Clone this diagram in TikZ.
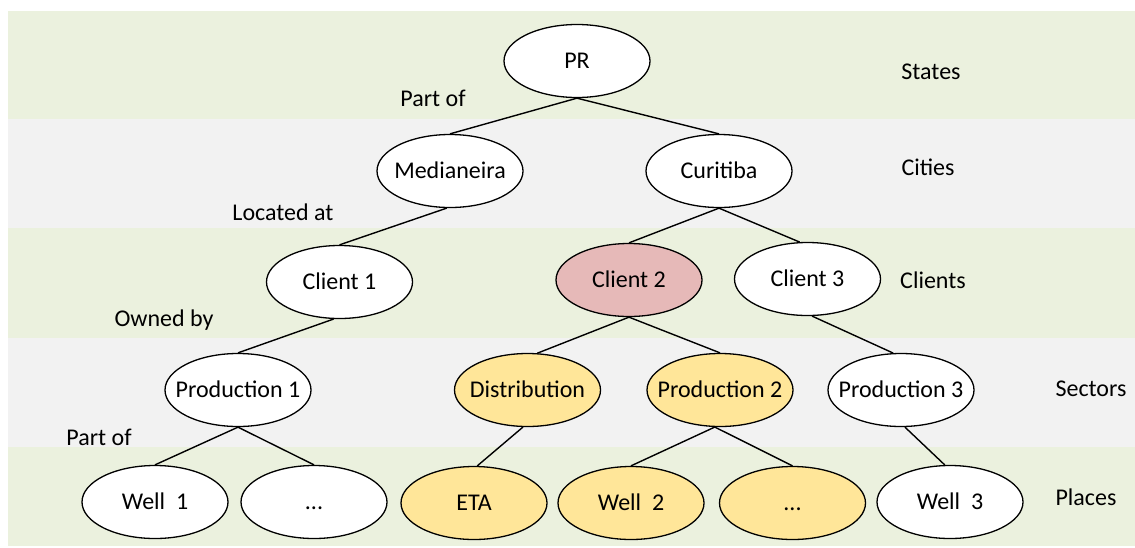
\documentclass[tikz,border=0pt]{standalone}
\usepackage{fontspec}
\setmainfont{Carlito}
\usetikzlibrary{shapes.geometric}
\definecolor{bandgreen}{HTML}{EBF1DE}
\definecolor{bandgray}{HTML}{F2F2F2}
\definecolor{pinkfill}{HTML}{E6B9B8}
\definecolor{goldfill}{HTML}{FFE699}
\begin{document}
\begin{tikzpicture}[x=1pt,y=-1pt,
  every node/.style={font=\fontsize{24}{28}\selectfont},
  ent/.style={ellipse,draw=black,line width=1.3pt,fill=white,minimum width=146pt,minimum height=73pt,inner xsep=-30pt,inner ysep=0pt,text height=15.5pt,text depth=0pt},
  pinkent/.style={ent,fill=pinkfill},
  goldent/.style={ent,fill=goldfill},
  lbl/.style={inner sep=0pt},
  edge/.style={draw=black,line width=1.4pt}]
\useasboundingbox (0,0) rectangle (1135,547);
% bands
\fill[bandgreen] (8,11) rectangle (1135,119);
\fill[bandgray] (8,119) rectangle (1135,228);
\fill[bandgreen] (8,228) rectangle (1135,338);
\fill[bandgray] (8,338) rectangle (1135,447);
\fill[bandgreen] (8,447) rectangle (1135,546);
% nodes
\node[ent] (pr) at (577,61) {PR};
\node[ent] (med) at (450,171) {Medianeira};
\node[ent] (cur) at (719,171) {Curitiba};
\node[ent] (c1) at (339.5,282) {Client 1};
\node[pinkent] (c2) at (629,280) {Client 2};
\node[ent] (c3) at (807.5,279) {Client 3};
\node[ent] (p1) at (238,390) {Production 1};
\node[goldent] (dist) at (527.5,390) {Distribution};
\node[goldent] (p2) at (720,390) {Production 2};
\node[ent] (p3) at (901,390) {Production 3};
\node[ent] (w1) at (155,502) {Well\ \ 1};
\node[ent] (d1) at (314,502) {...};
\node[goldent] (eta) at (474,503) {ETA};
\node[goldent] (w2) at (631,503) {Well\ \ 2};
\node[goldent] (d2) at (792.5,503) {...};
\node[ent] (w3) at (950,502) {Well\ \ 3};
% edges
\draw[edge] (pr.south) -- (med.north);
\draw[edge] (pr.south) -- (cur.north);
\draw[edge] (med.-95) -- (c1.north);
\draw[edge] (cur.south) -- (c2.north);
\draw[edge] (cur.south) -- (c3.102);
\draw[edge] (c1.-99) -- (p1.north);
\draw[edge] (c2.south) -- (dist.75);
\draw[edge] (c2.south) -- (p2.north);
\draw[edge] (c3.-83) -- (p3.102);
\draw[edge] (p1.south) -- (w1.north);
\draw[edge] (p1.south) -- (d1.north);
\draw[edge] (dist.-97) -- (eta.85);
\draw[edge] (p2.-98) -- (w2.north);
\draw[edge] (p2.-98) -- (d2.north);
\draw[edge] (p3.-84) -- (w3.98);
% relation labels
\node[lbl] (l1) at (433,98) {Part of};
\node[lbl] (l2) at (283,212) {Located at};
\node[lbl] (l3) at (164,320) {Owned by};
\node[lbl] (l4) at (99,437) {Part of};
% level labels
\node[lbl] (s1) at (931,72) {States};
\node[lbl] (s2) at (928,167) {Cities};
\node[lbl] (s3) at (933,280) {Clients};
\node[lbl] (s4) at (1091,389) {Sectors};
\node[lbl] (s5) at (1086,497) {Places};
\end{tikzpicture}
\end{document}
